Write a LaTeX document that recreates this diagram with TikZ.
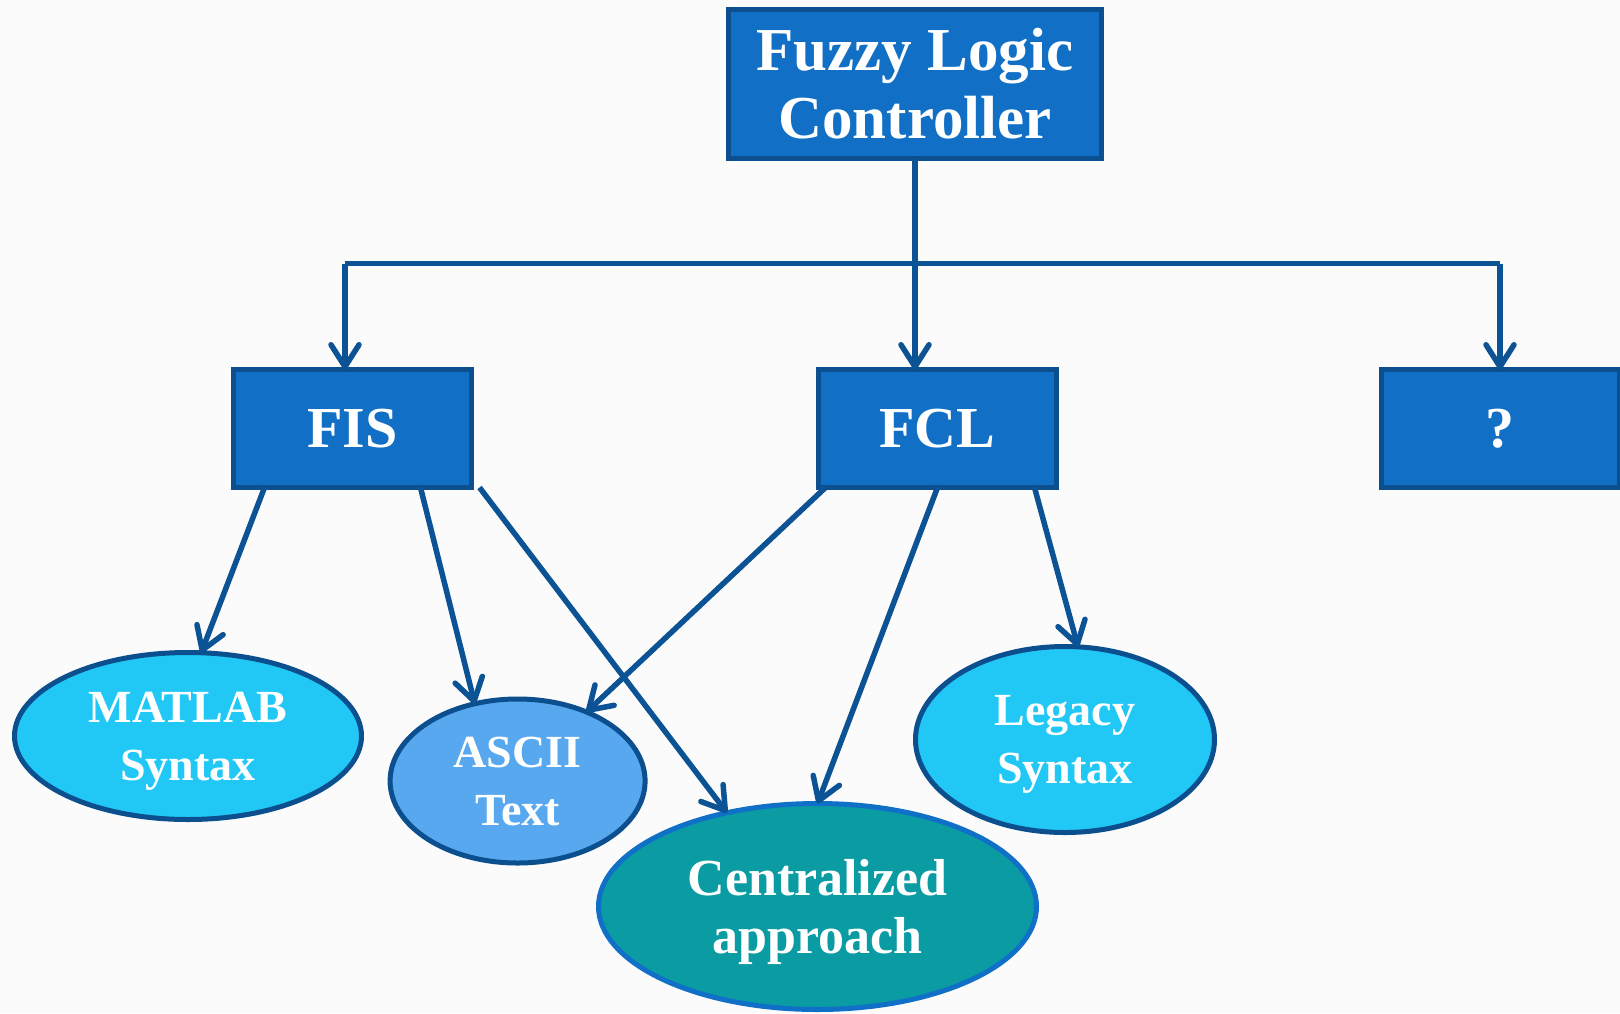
\documentclass[tikz,border=0pt]{standalone}
\usepackage{fontspec}
\setmainfont{Liberation Serif}
\usetikzlibrary{shapes.geometric,arrows.meta}
\definecolor{bg}{HTML}{FBFBFB}
\definecolor{boxfill}{HTML}{1170C6}
\definecolor{boxedge}{HTML}{0B4F8F}
\definecolor{linecol}{HTML}{0B5394}
\definecolor{cyanfill}{HTML}{22C8F5}
\definecolor{asciifill}{HTML}{58A8F0}
\definecolor{tealfill}{HTML}{0A9BA3}
\definecolor{tealedge}{HTML}{1070C8}
\begin{document}
\begin{tikzpicture}[x=1pt,y=-1pt,
  box/.style={draw=boxedge, fill=boxfill, line width=5pt, minimum width=238pt, minimum height=118pt,
    inner sep=0pt, outer sep=0pt, text=white, align=center, font=\bfseries\fontsize{58}{64}\selectfont},
  oval/.style={ellipse, draw=boxedge, line width=5pt, inner sep=0pt, outer sep=0pt, text=white,
    align=center, text depth=0pt, font=\bfseries\fontsize{46}{58}\selectfont},
  link/.style={draw=linecol, line width=5.5pt, line join=miter,
    -{Straight Barb[length=22pt,width=28pt,line cap=round,line join=round]}},
  plain/.style={draw=linecol, line width=5.5pt}
]
\useasboundingbox (0,0) rectangle (1620,1013);
\clip (0,0) rectangle (1620,1013);
\fill[bg] (0,0) rectangle (1620,1013);

% boxes
\node[box, minimum width=373pt, minimum height=149pt, font=\bfseries\fontsize{61}{68}\selectfont]
  (flc) at (915,83.5) {Fuzzy Logic\\Controller};
\node[box] (fis) at (352.5,428.5) {FIS};
\node[box] (fcl) at (937.5,428.5) {FCL};
\node[box] (q) at (1500,428.5) {?};

% ellipses
\node[oval, fill=cyanfill, minimum width=347pt, minimum height=167pt] (matlab) at (188,736) {MATLAB\\Syntax};
\node[oval, fill=asciifill, minimum width=255pt, minimum height=164pt] (ascii) at (517.6,781) {ASCII\\Text};
\node[oval, fill=tealfill, draw=tealedge, minimum width=438pt, minimum height=206pt,
  font=\bfseries\fontsize{52}{58}\selectfont] (cent) at (817.5,906.5) {Centralized\\approach};
\node[oval, fill=cyanfill, minimum width=299pt, minimum height=186pt] (legacy) at (1065,739.5) {Legacy\\Syntax};

% tree connectors
\coordinate (hl) at (345,263.5);
\coordinate (hr) at (1500,263.5);
\draw[plain] (hl) -- (hr);
\draw[link] (flc.south) -- (flc.south |- fcl.north);
\draw[link] (hl) -- (hl |- fis.north);
\draw[link] (hr) -- (hr |- q.north);

% FIS links
\draw[link] ([xshift=31pt]fis.south west) -- (matlab.81);
\draw[link] ([xshift=187pt]fis.south west) -- (ascii.119);
\draw[link] ([xshift=8pt]fis.south east) -- (cent.134);

% FCL links
\draw[link] ([xshift=7pt]fcl.south west) -- (ascii.45);
\draw[link] (fcl.south) -- (cent.90);
\draw[link] ([xshift=-22pt]fcl.south east) -- (legacy.82);
\end{tikzpicture}
\end{document}
